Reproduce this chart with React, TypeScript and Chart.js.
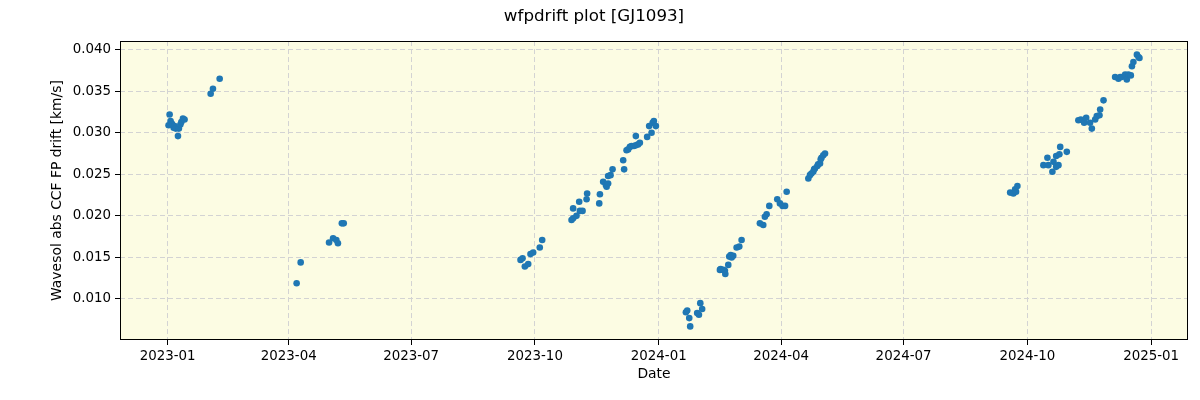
import React, { useEffect, useRef } from "react";
import { Chart, registerables } from "chart.js";

Chart.register(...registerables);

// Observation day offsets (days since 2023-01-01) and drift values [km/s]
const obsDay: number[] = [
  0.7, 1.5, 2.2, 3.0, 3.5, 4.5, 5.2, 6.0, 7.7, 8.4, 9.5, 10.2, 11.4, 12.6, 32.0, 33.7, 38.7,
  95.9, 98.9, 120.0, 123.0, 125.4, 126.6, 129.5, 130.9,
  262.3, 263.8, 265.5, 268.0, 269.7, 271.7, 276.6, 278.4,
  300.2, 301.4, 303.9, 301.4, 306.4, 308.4, 305.9, 311.4, 311.8,
  320.8, 321.3, 323.7, 325.7, 326.3, 327.4, 327.4, 329.2, 330.7,
  338.6, 339.3, 341.1, 342.3, 343.6, 344.8, 346.6, 348.0, 348.0, 349.7, 351.0, 356.4, 359.7, 357.9, 360.5, 361.4, 362.9,
  385.2, 386.2, 387.7, 388.4, 393.6, 394.9, 395.9, 397.3,
  410.5, 411.0, 413.0, 414.2, 414.5, 416.7, 417.4, 418.5, 419.2, 420.4, 422.9, 424.9, 426.6,
  440.2, 442.7, 443.9, 445.2, 447.2, 453.1, 455.1, 457.1, 458.9, 460.1,
  476.2, 477.4, 478.5, 479.9, 480.5, 481.1, 482.9, 483.5, 484.9, 485.4, 486.0, 487.3, 488.6,
  626.2, 628.6, 629.9, 630.6, 631.6,
  650.9, 653.9, 654.6, 657.6, 658.4, 660.4, 660.4, 662.1, 662.8, 663.4, 668.3,
  676.9, 678.7, 680.2, 681.2, 682.7, 685.6, 686.9, 689.4, 690.6, 692.6, 693.1, 695.6,
  704.2, 706.7, 708.0, 709.2, 711.7, 712.9, 714.1, 715.9, 716.7, 717.8, 720.4, 721.6, 722.3,
];

const driftVal: number[] = [
  0.0309, 0.0322, 0.0314, 0.0311, 0.0310, 0.0306, 0.0308, 0.0305, 0.0296, 0.0305, 0.0310, 0.0313, 0.0317, 0.0316, 0.0347, 0.0353, 0.0365,
  0.0119, 0.0144, 0.0168, 0.0173, 0.0171, 0.0167, 0.0191, 0.0191,
  0.0147, 0.0149, 0.0139, 0.0142, 0.0154, 0.0156, 0.0162, 0.0171,
  0.0195, 0.0197, 0.0200, 0.0209, 0.0206, 0.0206, 0.0217, 0.0220, 0.0227,
  0.0215, 0.0226, 0.0241, 0.0237, 0.0235, 0.0239, 0.0248, 0.0249, 0.0256,
  0.0267, 0.0256, 0.0279, 0.0280, 0.0283, 0.0284, 0.0284, 0.0285, 0.0296, 0.0286, 0.0288, 0.0295, 0.0300, 0.0308, 0.0312, 0.0314, 0.0308,
  0.0084, 0.0086, 0.0077, 0.0067, 0.0083, 0.0081, 0.0095, 0.0088,
  0.0135, 0.0136, 0.0135, 0.0134, 0.0130, 0.0141, 0.0151, 0.0153, 0.0150, 0.0152, 0.0162, 0.0163, 0.0171,
  0.0191, 0.0189, 0.0199, 0.0202, 0.0212, 0.0220, 0.0215, 0.0212, 0.0212, 0.0229,
  0.0245, 0.0249, 0.0251, 0.0253, 0.0256, 0.0257, 0.0260, 0.0262, 0.0263, 0.0268, 0.0270, 0.0273, 0.0275,
  0.0228, 0.0227, 0.0232, 0.0229, 0.0236,
  0.0261, 0.0270, 0.0261, 0.0253, 0.0265, 0.0272, 0.0259, 0.0261, 0.0274, 0.0283, 0.0277,
  0.0315, 0.0316, 0.0315, 0.0312, 0.0318, 0.0312, 0.0305, 0.0316, 0.0320, 0.0321, 0.0328, 0.0339,
  0.0367, 0.0365, 0.0367, 0.0367, 0.0370, 0.0364, 0.0370, 0.0369, 0.0380, 0.0385, 0.0394, 0.0391, 0.0390,
];

const xTickDays: number[] = [0, 90, 181, 273, 365, 456, 547, 639, 731];
const xTickLabels: string[] = [
  "2023-01", "2023-04", "2023-07", "2023-10", "2024-01", "2024-04", "2024-07", "2024-10", "2025-01",
];
const yTickValues: number[] = [0.01, 0.015, 0.02, 0.025, 0.03, 0.035, 0.04];

const FONT = "'DejaVu Sans', sans-serif";

export default function App() {
  const canvasRef = useRef<HTMLCanvasElement | null>(null);

  useEffect(() => {
    if (!canvasRef.current) return;
    const points = obsDay.map((d, i) => ({ x: d, y: driftVal[i] }));
    const xMinD = Math.min(...obsDay), xMaxD = Math.max(...obsDay);
    const yMinD = Math.min(...driftVal), yMaxD = Math.max(...driftVal);
    const xs = xMaxD - xMinD, ys = yMaxD - yMinD;

    const bgPlugin = {
      id: "bgFrame",
      beforeDraw(chart: any) {
        const { ctx, chartArea: a } = chart;
        ctx.save();
        ctx.fillStyle = "rgb(252,252,227)";
        ctx.fillRect(a.left, a.top, a.right - a.left, a.bottom - a.top);
        ctx.restore();
      },
      afterDraw(chart: any) {
        const { ctx, chartArea: a } = chart;
        ctx.save();
        ctx.strokeStyle = "#000";
        ctx.lineWidth = 1;
        ctx.strokeRect(Math.round(a.left) + 0.5, Math.round(a.top) + 0.5, Math.round(a.right - a.left) - 1, Math.round(a.bottom - a.top) - 1);
        ctx.restore();
      },
    };

    const chart = new Chart(canvasRef.current, {
      type: "scatter",
      data: {
        datasets: [
          {
            data: points,
            backgroundColor: "#1f77b4",
            borderWidth: 0,
            pointRadius: 3.3,
          },
        ],
      },
      plugins: [bgPlugin],
      options: {
        animation: false,
        responsive: false,
        maintainAspectRatio: false,
        layout: { padding: { left: 0, right: 12, top: 0, bottom: 0 } },
        plugins: {
          legend: { display: false },
          tooltip: { enabled: false },
          title: {
            display: true,
            text: "wfpdrift plot [GJ1093]",
            color: "#000",
            font: { family: FONT, size: 16.7, weight: "normal" },
            padding: { top: 7, bottom: 14 },
          },
        },
        scales: {
          x: {
            type: "linear",
            min: xMinD - 0.05 * xs,
            max: xMaxD + 0.05 * xs,
            afterBuildTicks: (scale: any) => {
              scale.ticks = xTickDays.map((v) => ({ value: v }));
            },
            afterFit: (scale: any) => {
              scale.height = 60;
            },
            ticks: {
              color: "#000",
              font: { family: FONT, size: 13.4 },
              padding: 3,
              maxRotation: 0,
              autoSkip: false,
              callback: (v: any) => {
                const i = xTickDays.indexOf(Number(v));
                return i >= 0 ? xTickLabels[i] : "";
              },
            },
            grid: {
              color: "#d3d3d3",
              lineWidth: 1,
              tickLength: 5,
              tickColor: "#000",
              tickWidth: 1,
              tickBorderDash: [],
            },
            border: { display: false, dash: [5, 3] },
            title: {
              display: true,
              text: "Date",
              color: "#000",
              font: { family: FONT, size: 13.9 },
              padding: { top: 0, bottom: 17 },
            },
          },
          y: {
            type: "linear",
            min: yMinD - 0.05 * ys,
            max: yMaxD + 0.05 * ys,
            afterBuildTicks: (scale: any) => {
              scale.ticks = yTickValues.map((v) => ({ value: v }));
            },
            afterFit: (scale: any) => {
              scale.width = 120;
            },
            ticks: {
              color: "#000",
              font: { family: FONT, size: 13.4 },
              padding: 4,
              autoSkip: false,
              callback: (v: any) => Number(v).toFixed(3),
            },
            grid: {
              color: "#d3d3d3",
              lineWidth: 1,
              tickLength: 5,
              tickColor: "#000",
              tickWidth: 1,
              tickBorderDash: [],
            },
            border: { display: false, dash: [5, 3] },
            title: {
              display: true,
              text: "Wavesol abs CCF FP drift [km/s]",
              color: "#000",
              font: { family: FONT, size: 13.9 },
              padding: { top: 49, bottom: 0 },
            },
          },
        },
      } as any,
    });
    return () => chart.destroy();
  }, []);

  return (
    <div style={{ position: "absolute", left: 0, top: 0, width: 1200, height: 400, background: "#fff" }}>
      <canvas ref={canvasRef} width={1200} height={400} style={{ width: 1200, height: 400 }} />
    </div>
  );
}
